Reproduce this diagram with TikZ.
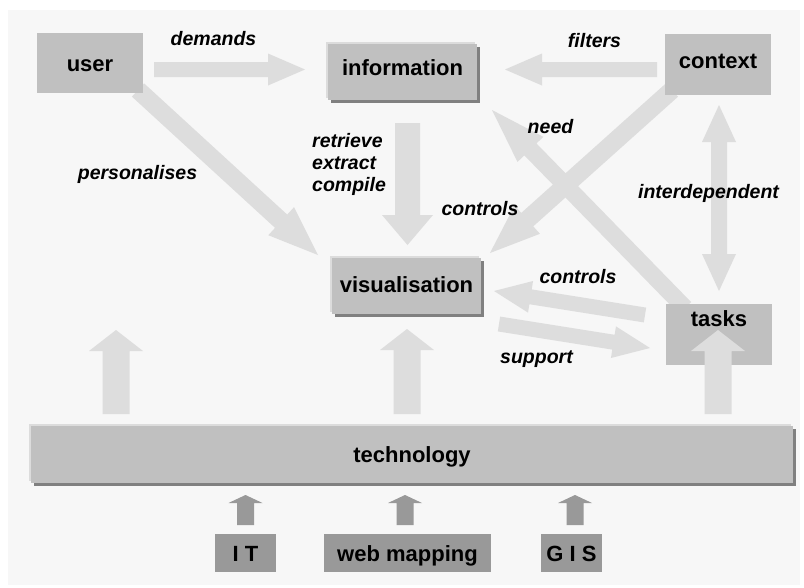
\documentclass[tikz,border=0pt]{standalone}
\usepackage{fontspec}
\setmainfont{Liberation Sans}
\usetikzlibrary{calc,shadows}
\definecolor{bgc}{HTML}{F7F7F7}
\definecolor{arrc}{HTML}{DDDDDD}
\definecolor{boxc}{HTML}{C0C0C0}
\definecolor{dboxc}{HTML}{999999}
\definecolor{shc}{HTML}{808080}
\definecolor{hlc}{HTML}{DCDCDC}
\pgfdeclarelayer{bg}
\pgfsetlayers{bg,main}
% [style]{start}{tip}{half shaft}{half head}{head length}
\newcommand{\blockarr}[6][arr]{%
  \coordinate (bah) at ($(#3)!#6!(#2)$);
  \fill[#1] ($(#2)!#4!90:(#3)$) -- ($(bah)!#4!90:(#3)$) -- ($(bah)!#5!90:(#3)$) -- (#3)
    -- ($(bah)!#5!-90:(#3)$) -- ($(bah)!#4!-90:(#3)$) -- ($(#2)!#4!-90:(#3)$) -- cycle;
}
\begin{document}
\begin{tikzpicture}[x=1pt,y=-1pt,
  boxn/.style={fill=boxc, draw=none, inner sep=0pt, font=\fontsize{22}{26}\selectfont\bfseries},
  sbox/.style={boxn,
    general shadow={shadow xshift=-2pt,shadow yshift=2pt,fill=hlc},
    general shadow={shadow xshift=3pt,shadow yshift=-3pt,fill=shc}},
  dbox/.style={boxn, fill=dboxc},
  tx/.style 2 args={text height=#1pt, text depth=#2pt},
  lbl/.style={inner sep=0pt, font=\fontsize{19.5}{22}\selectfont\bfseries\itshape},
  arr/.style={fill=arrc},
  darr/.style={fill=dboxc}]
\useasboundingbox (0,0) rectangle (804,587);

% boxes
\node[boxn, minimum width=106pt, minimum height=60pt, tx={16}{0}] (user) at (90,63) {user};
\node[sbox, minimum width=149pt, minimum height=56pt, tx={6}{0}] (information) at (402.5,72) {information};
\node[boxn, minimum width=106pt, minimum height=61pt, tx={7}{0}] (context) at (718,64.5) {context};
\node[sbox, minimum width=149pt, minimum height=56pt, tx={12}{0}] (visualisation) at (406.5,286) {visualisation};
\node[boxn, minimum width=106pt, minimum height=61pt, tx={0}{17}] (tasks) at (719,334.5) {tasks};
\node[sbox, minimum width=762pt, minimum height=57pt, tx={15}{0}] (technology) at (412,454.5) {technology};
\node[dbox, minimum width=61pt, minimum height=38pt, tx={16}{0}] (it) at (245.5,553) {I T};
\node[dbox, minimum width=167pt, minimum height=38pt, tx={16}{0}] (web) at (407.5,553) {web mapping};
\node[dbox, minimum width=61pt, minimum height=38pt, tx={16}{0}] (gis) at (571.5,553) {G I S};

% connector end points
\coordinate (dem-s) at (154,69.5);   \coordinate (dem-e) at (305,69.5);
\coordinate (fil-s) at (657,69.5);   \coordinate (fil-e) at (505,69.5);
\coordinate (ret-s) at (407.5,123);  \coordinate (ret-e) at (407.5,245);
\coordinate (per-s) at (138,90);     \coordinate (per-e) at (318,255);
\coordinate (con-s) at (672,90);     \coordinate (con-e) at (490,253);
\coordinate (need-s) at (685,308);   \coordinate (need-e) at (492,110);
\coordinate (int-m) at (719,198);    \coordinate (int-t) at (719,105);  \coordinate (int-b) at (719,291);
\coordinate (cot-s) at (645,315);    \coordinate (cot-e) at (494,291);
\coordinate (sup-s) at (499,324);    \coordinate (sup-e) at (650,348);
\coordinate (up1-s) at (116,414);    \coordinate (up1-e) at (116,330);
\coordinate (up2-s) at (407,414);    \coordinate (up2-e) at (407,329);
\coordinate (up3-s) at (718,414);    \coordinate (up3-e) at (718,330);
\coordinate (it-s) at (245.5,525);   \coordinate (it-e) at (245.5,495);
\coordinate (web-s) at (405,525);    \coordinate (web-e) at (405,495);
\coordinate (gis-s) at (575,525);    \coordinate (gis-e) at (575,495);

\begin{pgfonlayer}{bg}
\fill[bgc] (8,10) rectangle (800,585);
\blockarr{dem-s}{dem-e}{7.5pt}{16pt}{37pt}
\blockarr{fil-s}{fil-e}{7.5pt}{16pt}{37pt}
\blockarr{ret-s}{ret-e}{12.5pt}{25.5pt}{30pt}
\blockarr{per-s}{per-e}{9pt}{19pt}{50pt}
\blockarr{con-s}{con-e}{9pt}{19pt}{50pt}
\blockarr{need-s}{need-e}{8.5pt}{18pt}{55pt}
\blockarr{int-m}{int-t}{8pt}{17pt}{37pt}
\blockarr{int-m}{int-b}{8pt}{17pt}{37pt}
\blockarr{cot-s}{cot-e}{7.5pt}{16pt}{37pt}
\blockarr{sup-s}{sup-e}{7.5pt}{16pt}{37pt}
\blockarr{up1-s}{up1-e}{13.5pt}{27pt}{21pt}
\blockarr{up2-s}{up2-e}{13.5pt}{27pt}{21pt}
\end{pgfonlayer}
\blockarr{up3-s}{up3-e}{13.5pt}{27pt}{21pt}
\blockarr[darr]{it-s}{it-e}{8.5pt}{17pt}{8pt}
\blockarr[darr]{web-s}{web-e}{8.5pt}{17pt}{8pt}
\blockarr[darr]{gis-s}{gis-e}{8.5pt}{17pt}{8pt}

% labels
\node[lbl, anchor=base] (l-dem) at (213.5,45) {demands};
\node[lbl, anchor=base] (l-fil) at (594.5,47) {filters};
\node[lbl, anchor=base] (l-per) at (137.5,179.5) {personalises};
\node[lbl, anchor=north west, align=left] (l-ret) at (312,133) {retrieve\\extract\\compile};
\node[lbl, anchor=base] (l-con) at (480,215) {controls};
\node[lbl, anchor=base] (l-need) at (550.5,133) {need};
\node[lbl, anchor=base] (l-int) at (708.5,198) {interdependent};
\node[lbl, anchor=base] (l-cot) at (578,283) {controls};
\node[lbl, anchor=base] (l-sup) at (536.5,363) {support};
\end{tikzpicture}
\end{document}
